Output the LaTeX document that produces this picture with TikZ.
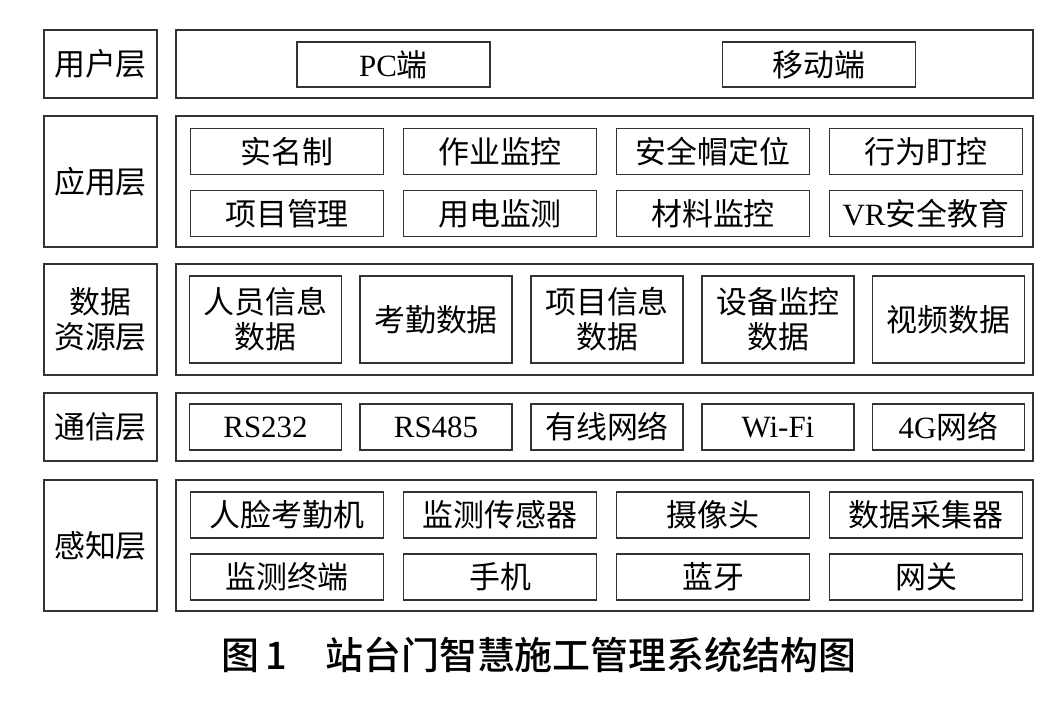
\documentclass[tikz,border=0pt]{standalone}
\usepackage{fontspec}
\setmainfont{Liberation Serif}
\newfontfamily\cjk{Noto Sans CJK SC}
\newfontfamily\cjkmid{Noto Sans CJK SC Medium}
\usetikzlibrary{positioning}

\begin{document}
\begin{tikzpicture}[x=0.025cm, y=-0.025cm,
    layerbox/.style={draw=black!80, line width=1.2pt},
    itembox/.style={draw=black!80, line width=1pt, align=center, font=\fontsize{22}{25}\selectfont\cjk},
    layername/.style={font=\fontsize{22}{25}\selectfont\cjk, align=center}
]
\useasboundingbox (0,0) rectangle (1061,705);

% layer frames: name box and content box
\foreach \ya/\yb/\nm [count=\i] in {30/98/用户层, 116/247/应用层, 264/375/数据\\资源层, 393/461/通信层, 480/611/感知层}{
  \draw[layerbox] (44,\ya) rectangle (157,\yb);
  \node[layername] (name\i) at (100.5,{(\ya+\yb)/2}) {\nm};
  \draw[layerbox] (176,\ya) rectangle (1033,\yb);
}

% user layer
\node[itembox, minimum width=193*0.025cm, minimum height=45*0.025cm] (pc) at (393.5,64.5) {{\rmfamily PC}端};
\node[itembox, minimum width=193*0.025cm, minimum height=45*0.025cm] (mobile) at (819,64.5) {移动端};

% application layer
\foreach \x/\t [count=\i] in {287/实名制, 500/作业监控, 713/安全帽定位, 926/行为盯控}
  \node[itembox, minimum width=193*0.025cm, minimum height=46*0.025cm] (app\i) at (\x,151.5) {\t};
\foreach \x/\t [count=\i] in {287/项目管理, 500/用电监测, 713/材料监控, 926/{{\rmfamily VR}安全教育}}
  \node[itembox, minimum width=193*0.025cm, minimum height=46*0.025cm] (appb\i) at (\x,213.5) {\t};

% data resource layer
\foreach \x/\t [count=\i] in {265.5/人员信息\\数据, 436/考勤数据, 607/项目信息\\数据, 778/设备监控\\数据, 948.5/视频数据}
  \node[itembox, minimum width=152*0.025cm, minimum height=87*0.025cm] (data\i) at (\x,319.5) {\t};

% communication layer
\foreach \x/\t [count=\i] in {265.5/{\rmfamily RS232}, 436/{\rmfamily RS485}, 607/有线网络, 778/{\rmfamily Wi-Fi}, 948.5/{{\rmfamily 4G}网络}}
  \node[itembox, minimum width=152*0.025cm, minimum height=46*0.025cm] (com\i) at (\x,427) {\t};

% perception layer
\foreach \x/\t [count=\i] in {287/人脸考勤机, 500/监测传感器, 713/摄像头, 926/数据采集器}
  \node[itembox, minimum width=193*0.025cm, minimum height=46*0.025cm] (sen\i) at (\x,515) {\t};
\foreach \x/\t [count=\i] in {287/监测终端, 500/手机, 713/蓝牙, 926/网关}
  \node[itembox, minimum width=193*0.025cm, minimum height=46*0.025cm] (senb\i) at (\x,577) {\t};

% caption
\node[font=\fontsize{27}{30}\selectfont\cjkmid] (caption) at (539,655) {图\,1\quad 站台门智慧施工管理系统结构图};
\end{tikzpicture}
\end{document}
